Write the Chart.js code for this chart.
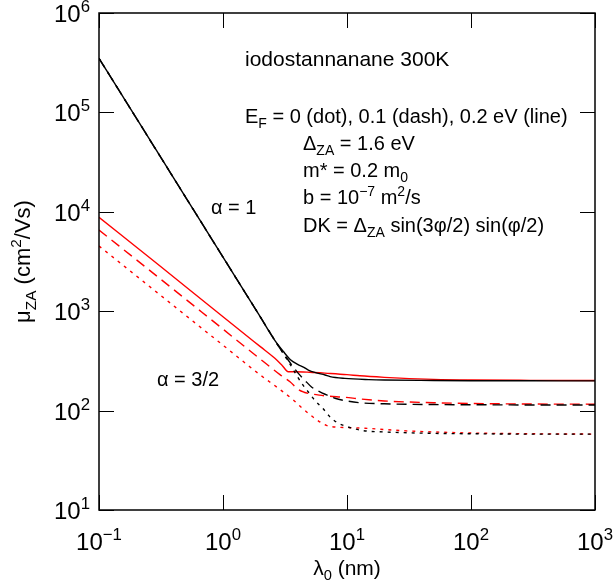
<!DOCTYPE html>
<html>
<head>
<meta charset="utf-8">
<script src="https://cdn.jsdelivr.net/npm/chart.js@4.4.1/dist/chart.umd.min.js"></script>
<style>
  html, body { margin: 0; padding: 0; background: #ffffff; }
  #wrap { width: 614px; height: 588px; }
</style>
</head>
<body>
<div id="wrap"><canvas id="c" width="614" height="588"></canvas></div>
<script>
// ---------- data ----------
const xTicks = [0.1, 1, 10, 100, 1000];
const xTickExp = ['\u22121', '0', '1', '2', '3'];
const yTicks = [10, 100, 1000, 10000, 100000, 1000000];
const yTickExp = ['1', '2', '3', '4', '5', '6'];

// alpha = 1 (black)
const lamBlackLine = [0.1, 0.2, 0.5, 1, 2, 2.6, 3.06, 3.5, 4, 4.45, 4.88, 5.5, 6.65, 7.3, 9.6, 15, 20, 50, 100, 300, 1000];
const muBlackLine  = [350000, 87500, 14000, 3500, 875, 515, 395, 325, 292, 274, 256, 242, 228, 220, 211, 205, 203, 201, 200, 199.5, 199];
const lamBlackDash = [0.1, 0.2, 0.5, 1, 2, 2.6, 2.97, 3.5, 4.05, 4.6, 5.2, 6, 6.65, 8, 10, 12.7, 20, 50, 100, 300, 1000];
const muBlackDash  = [350000, 87500, 14000, 3500, 875, 515, 400, 300, 237, 200, 172, 155, 146, 133, 125, 120, 117, 115, 114.5, 114, 114];
const lamBlackDot  = [0.1, 0.2, 0.5, 1, 2, 2.6, 3, 3.5, 4, 4.45, 5, 5.5, 6.4, 7.2, 8.3, 10, 13.4, 20, 50, 100, 300, 1000];
const muBlackDot   = [350000, 87500, 14000, 3500, 875, 515, 390, 288, 218, 178, 148, 127, 105, 88, 76, 69, 63, 61, 59, 58.5, 58, 58];

// alpha = 3/2 (red)
const lamRedLine = [0.1, 0.3, 1, 2, 2.62, 3.0, 3.36, 3.8, 5, 7, 10, 12.7, 20, 26.7, 50, 100, 300, 1000];
const muRedLine  = [8800, 2950, 880, 440, 336, 285, 246, 246, 243, 237, 230, 224, 216, 212, 206, 203, 201.5, 201];
const lamRedDash = [0.1, 0.3, 1, 2, 2.88, 3.47, 4.05, 4.5, 4.88, 6, 7, 9.64, 12.7, 20, 50, 100, 300, 1000];
const muRedDash  = [6560, 2200, 660, 330, 230, 195, 163, 153, 149, 143, 140, 136, 131, 125, 120, 118, 116.5, 116];
const lamRedDot  = [0.1, 0.3, 1, 2, 2.79, 3.69, 4.31, 5.03, 5.68, 6.83, 8.5, 10, 14, 20, 30, 50, 100, 300, 1000];
const muRedDot   = [4530, 1510, 455, 228, 168, 128, 107, 91, 81, 71, 68, 67.5, 66.5, 64.5, 62.5, 61, 59.5, 58.5, 58];

// ---------- helpers ----------
const FONT = '"Liberation Sans", Arial, Helvetica, sans-serif';
function pts(xs, ys) { return xs.map((x, i) => ({ x: x, y: ys[i] })); }

// parts: [text, mode] mode 0 normal, 1 subscript, 2 superscript
function richWidth(ctx, parts, size) {
  let w = 0;
  for (const [t, m] of parts) {
    ctx.font = (m ? size * 0.7 : size) + 'px ' + FONT;
    w += ctx.measureText(t).width;
  }
  return w;
}
function drawRich(ctx, parts, x, y, size, align) {
  const w = richWidth(ctx, parts, size);
  let cx = x;
  if (align === 'center') cx = x - w / 2;
  else if (align === 'right') cx = x - w;
  ctx.textBaseline = 'alphabetic';
  ctx.textAlign = 'left';
  for (const [t, m] of parts) {
    const s = m ? size * 0.7 : size;
    ctx.font = s + 'px ' + FONT;
    let dy = 0;
    if (m === 1) dy = size * 0.25;
    if (m === 2) dy = -size * 0.42;
    ctx.fillText(t, cx, y + dy);
    cx += ctx.measureText(t).width;
  }
}

const decorPlugin = {
  id: 'decor',
  afterDatasetsDraw(chart) {
    const ctx = chart.ctx;
    const a = chart.chartArea;
    const xs = chart.scales.x, ys = chart.scales.y;
    ctx.save();
    ctx.fillStyle = '#000';
    ctx.strokeStyle = '#000';
    // inward ticks on all four sides
    ctx.lineWidth = 1;
    const TL = 15;
    ctx.beginPath();
    xTicks.forEach(v => {
      const px = Math.round(xs.getPixelForValue(v)) + 0.5;
      ctx.moveTo(px, a.bottom); ctx.lineTo(px, a.bottom - TL);
      ctx.moveTo(px, a.top); ctx.lineTo(px, a.top + TL);
    });
    yTicks.forEach(v => {
      const py = Math.round(ys.getPixelForValue(v)) + 0.5;
      ctx.moveTo(a.left, py); ctx.lineTo(a.left + TL, py);
      ctx.moveTo(a.right, py); ctx.lineTo(a.right - TL, py);
    });
    ctx.stroke();
    // frame
    ctx.lineWidth = 1.5;
    ctx.strokeRect(a.left, a.top, a.right - a.left, a.bottom - a.top);

    // tick labels
    const TS = 24;
    xTicks.forEach((v, i) => {
      const px = xs.getPixelForValue(v);
      drawRich(ctx, [['10', 0], [xTickExp[i], 2]], px, a.bottom + 40, TS, 'center');
    });
    yTicks.forEach((v, i) => {
      const py = ys.getPixelForValue(v);
      drawRich(ctx, [['10', 0], [yTickExp[i], 2]], a.left - 9, py + 9, TS, 'right');
    });

    // axis titles
    drawRich(ctx, [['\u03bb', 0], ['0', 1], [' (nm)', 0]], (a.left + a.right) / 2, 575, 21, 'center');
    ctx.save();
    ctx.translate(30, (a.top + a.bottom) / 2);
    ctx.rotate(-Math.PI / 2);
    drawRich(ctx, [['\u03bc', 0], ['ZA', 1], [' (cm', 0], ['2', 2], ['/Vs)', 0]], 0, 0, 22, 'center');
    ctx.restore();

    // annotations
    drawRich(ctx, [['iodostannanane 300K', 0]], 245, 66, 21, 'left');
    const AS = 20;
    drawRich(ctx, [['E', 0], ['F', 1], [' = 0 (dot), 0.1 (dash), 0.2 eV (line)', 0]], 245, 123, AS, 'left');
    drawRich(ctx, [['\u0394', 0], ['ZA', 1], [' = 1.6 eV', 0]], 303, 150, AS, 'left');
    drawRich(ctx, [['m* = 0.2 m', 0], ['0', 1]], 303, 177, AS, 'left');
    drawRich(ctx, [['b = 10', 0], ['\u22127', 2], [' m', 0], ['2', 2], ['/s', 0]], 303, 204, AS, 'left');
    drawRich(ctx, [['DK = \u0394', 0], ['ZA', 1], [' sin(3\u03c6/2) sin(\u03c6/2)', 0]], 303, 232, AS, 'left');
    drawRich(ctx, [['\u03b1 = 1', 0]], 211, 214, AS, 'left');
    drawRich(ctx, [['\u03b1 = 3/2', 0]], 157, 386, AS, 'left');
    ctx.restore();
  }
};

const DASH = [10, 6];
const DOT = [3, 5];
function ds(label, xs, ys, color, dash) {
  return {
    label: label,
    data: pts(xs, ys),
    borderColor: color,
    backgroundColor: color,
    borderWidth: 1.4,
    borderDash: dash,
    pointRadius: 0,
    showLine: true,
    fill: false,
    cubicInterpolationMode: 'monotone'
  };
}

new Chart(document.getElementById('c'), {
  type: 'scatter',
  data: {
    datasets: [
      ds('black dot', lamBlackDot, muBlackDot, '#000000', DOT),
      ds('black dash', lamBlackDash, muBlackDash, '#000000', DASH),
      ds('black line', lamBlackLine, muBlackLine, '#000000', []),
      ds('red dot', lamRedDot, muRedDot, '#ff0000', DOT),
      ds('red dash', lamRedDash, muRedDash, '#ff0000', DASH),
      ds('red line', lamRedLine, muRedLine, '#ff0000', [])
    ]
  },
  options: {
    responsive: false,
    animation: false,
    devicePixelRatio: 1,
    layout: { padding: { top: 13, right: 19, left: 0, bottom: 0 } },
    plugins: { legend: { display: false }, tooltip: { enabled: false } },
    scales: {
      x: {
        type: 'logarithmic', min: 0.1, max: 1000,
        afterBuildTicks: s => { s.ticks = xTicks.map(v => ({ value: v })); },
        afterFit: s => { s.height = 78; },
        ticks: { display: false },
        grid: { display: false },
        border: { display: false }
      },
      y: {
        type: 'logarithmic', min: 10, max: 1000000,
        afterBuildTicks: s => { s.ticks = yTicks.map(v => ({ value: v })); },
        afterFit: s => { s.width = 99; },
        ticks: { display: false },
        grid: { display: false },
        border: { display: false }
      }
    }
  },
  plugins: [decorPlugin]
});
</script>
</body>
</html>
